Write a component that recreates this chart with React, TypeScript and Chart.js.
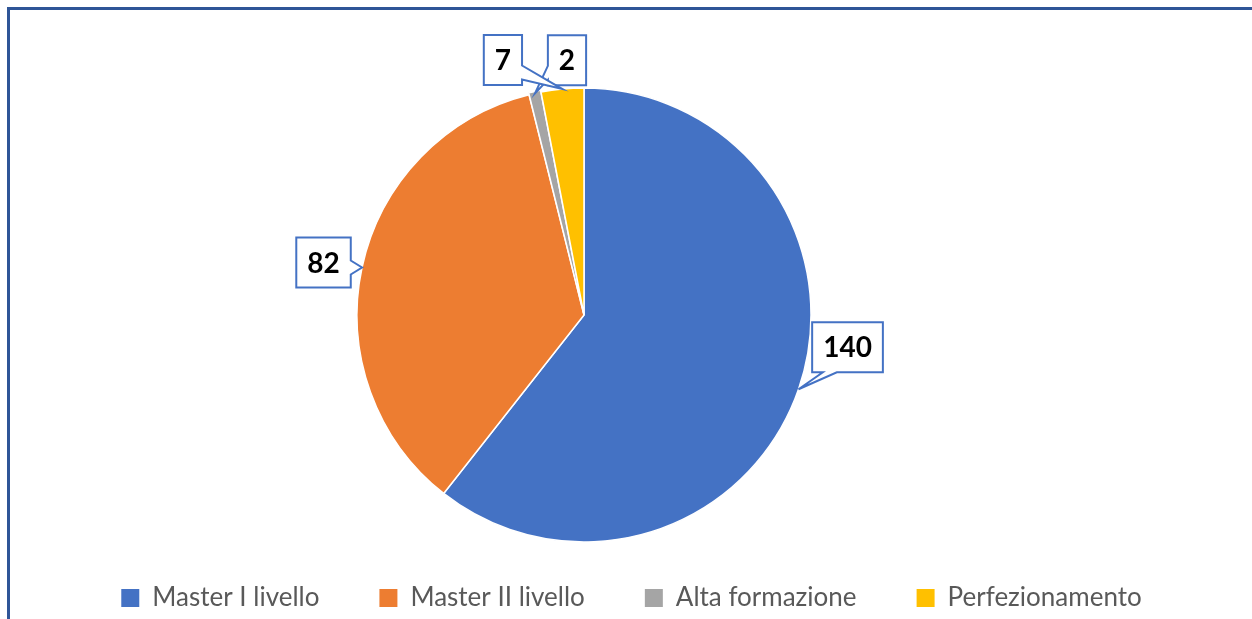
import React, { useEffect, useRef } from "react";
import { Chart, registerables } from "chart.js";

Chart.register(...registerables);

const categories = ["Master I livello", "Master II livello", "Alta formazione", "Perfezionamento"];
const values = [140, 82, 2, 7];
const colors = ["#4472C4", "#ED7D31", "#A5A5A5", "#FFC000"];
// callout box centre relative to the slice's outer mid point
const labelOffsets: number[][] = [[49, -42], [-38.5, -5], [32, -33], [-59.5, -29]];
const sliceOffsets = [0, 0, 4, 0];

function clamp(v: number, a: number, b: number) {
  return Math.max(a, Math.min(b, v));
}

function calloutPath(ctx: CanvasRenderingContext2D, x0: number, y0: number, x1: number, y1: number, px: number, py: number) {
  const w = x1 - x0, h = y1 - y0, cx = (x0 + x1) / 2, cy = (y0 + y1) / 2;
  const dx = (px - cx) / (w / 2), dy = (py - cy) / (h / 2);
  const bw = 7;
  let side: string;
  if (Math.abs(dx) >= Math.abs(dy)) side = dx > 0 ? "right" : "left";
  else side = dy > 0 ? "bottom" : "top";
  ctx.beginPath();
  ctx.moveTo(x0, y0);
  if (side === "top") {
    const bx = clamp(px, x0 + w * 0.25, x1 - w * 0.25);
    ctx.lineTo(bx - bw, y0); ctx.lineTo(px, py); ctx.lineTo(bx + bw, y0);
  }
  ctx.lineTo(x1, y0);
  if (side === "right") {
    const by = clamp(py, y0 + h * 0.25, y1 - h * 0.25);
    ctx.lineTo(x1, by - bw); ctx.lineTo(px, py); ctx.lineTo(x1, by + bw);
  }
  ctx.lineTo(x1, y1);
  if (side === "bottom") {
    const bx = clamp(px, x0 + w * 0.25, x1 - w * 0.25);
    ctx.lineTo(bx + bw, y1); ctx.lineTo(px, py); ctx.lineTo(bx - bw, y1);
  }
  ctx.lineTo(x0, y1);
  if (side === "left") {
    const by = clamp(py, y0 + h * 0.25, y1 - h * 0.25);
    ctx.lineTo(x0, by + bw); ctx.lineTo(px, py); ctx.lineTo(x0, by - bw);
  }
  ctx.closePath();
}

const calloutPlugin = {
  id: "callouts",
  afterDatasetsDraw(chart: any) {
    const ctx: CanvasRenderingContext2D = chart.ctx;
    const meta = chart.getDatasetMeta(0);
    ctx.save();
    ctx.font = "bold 28px Lato";
    meta.data.forEach((arc: any, i: number) => {
      const p = arc.getProps(["x", "y", "startAngle", "endAngle", "outerRadius"], true);
      const mid = (p.startAngle + p.endAngle) / 2;
      const px = p.x + Math.cos(mid) * p.outerRadius;
      const py = p.y + Math.sin(mid) * p.outerRadius;
      const text = String(values[i]);
      const tw = ctx.measureText(text).width;
      const bwid = tw + 22, bh = 50;
      const cx = px + labelOffsets[i][0];
      const cy = py + labelOffsets[i][1];
      const x0 = cx - bwid / 2, y0 = cy - bh / 2;
      calloutPath(ctx, x0, y0, x0 + bwid, y0 + bh, px, py);
      ctx.fillStyle = "#FFFFFF";
      ctx.fill();
      ctx.strokeStyle = "#4472C4";
      ctx.lineWidth = 2;
      ctx.stroke();
      ctx.fillStyle = "#000000";
      ctx.textAlign = "center";
      ctx.textBaseline = "middle";
      ctx.fillText(text, cx, cy + 1);
    });
    ctx.restore();
  },
};

export default function App() {
  const ref = useRef<HTMLCanvasElement | null>(null);
  useEffect(() => {
    if (!ref.current) return;
    const chart = new Chart(ref.current, {
      type: "pie",
      data: {
        labels: categories,
        datasets: [
          {
            data: values,
            backgroundColor: colors,
            borderColor: "#FFFFFF",
            borderWidth: 1.5,
            offset: sliceOffsets,
            clip: false as any,
          },
        ],
      },
      options: {
        animation: false,
        responsive: false,
        radius: 227,
        layout: { padding: { top: 105, left: 11, right: 0, bottom: 0 } },
        plugins: {
          tooltip: { enabled: false },
          title: {
            display: true,
            position: "right",
            fullSize: false,
            text: " ",
            font: { size: 10, lineHeight: 1.2 },
            padding: { top: 0, bottom: 83 },
          },
          legend: {
            position: "bottom",
            labels: {
              boxWidth: 18,
              boxHeight: 18,
              padding: 60,
              color: "#595959",
              font: { family: "Lato", size: 26 },
              generateLabels: (chart: any) =>
                categories.map((c, i) => ({
                  text: c,
                  fillStyle: colors[i],
                  strokeStyle: colors[i],
                  lineWidth: 0,
                  hidden: false,
                  index: i,
                  fontColor: "#595959",
                })),
            },
          },
        },
      } as any,
      plugins: [calloutPlugin],
    });
    return () => chart.destroy();
  }, []);
  return (
    <div style={{ position: "fixed", left: 0, top: 0, width: 1252, height: 619, overflow: "hidden", background: "#FFFFFF" }}>
      <canvas ref={ref} width={1252} height={621} style={{ position: "absolute", left: 0, top: 0, width: 1252, height: 621 }} />
      <div style={{ position: "absolute", left: 7, top: 7, width: 1300, height: 700, borderTop: "3px solid #2F5597", borderLeft: "3px solid #2F5597", pointerEvents: "none" }} />
    </div>
  );
}
